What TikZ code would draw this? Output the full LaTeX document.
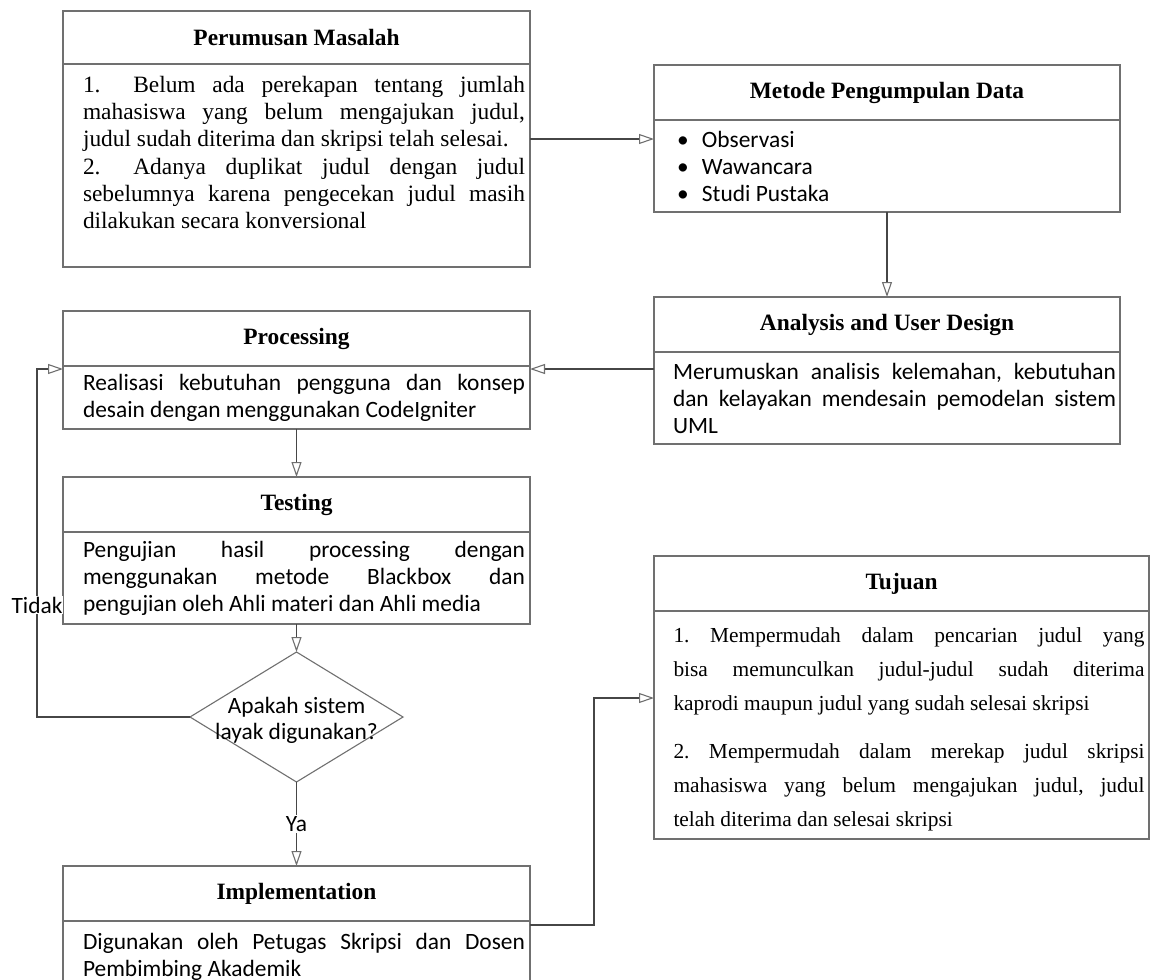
\documentclass[tikz,border=0pt]{standalone}
\usepackage{fontspec}
\setmainfont{Liberation Serif}
\newfontfamily\calibri{Carlito}
\usetikzlibrary{arrows.meta, positioning}
\usetikzlibrary{shapes.geometric}
\usepackage{xcolor}
\definecolor{boxgray}{RGB}{112,112,112}
\definecolor{linedark}{RGB}{70,70,70}
\frenchspacing
\newcommand{\isiteks}[2]{\hspace*{15pt}\parbox{#1}{\tolerance=10000\hbadness=10000 #2}}
\newcommand{\butir}[1]{\hspace*{4pt}\makebox[25pt][l]{•}#1}

\begin{document}
\begin{tikzpicture}[x=1pt, y=-1pt,
  headnode/.style={draw=boxgray, line width=1.1pt, outer sep=0pt, inner sep=0pt, minimum height=55pt, font=\fontsize{23.4}{27}\selectfont\bfseries},
  bodynode/.style={draw=boxgray, line width=1.1pt, outer sep=0pt, inner sep=0pt, font=\calibri\fontsize{23.4}{27}\selectfont},
  serifnode/.style={bodynode, font=\rmfamily\fontsize{23.4}{27.3}\selectfont},
  decnode/.style={draw=boxgray, line width=1.1pt, diamond, minimum width=213pt, minimum height=130pt, inner sep=0pt, outer sep=0pt, font=\calibri\fontsize{23.4}{26}\selectfont},
  flow/.style={draw=linedark, line width=1.1pt, -{Triangle[open, length=15pt, width=10pt, color=boxgray]}},
  lbl/.style={fill=white, inner sep=1pt, font=\calibri\fontsize{23.4}{27}\selectfont}]

    \useasboundingbox[fill=white] (0,0) rectangle (1160,980);

    % left column
    \node[headnode, minimum width=467pt, minimum height=53pt, anchor=north west] (masalah) at (63,11) {Perumusan Masalah};
    \node[serifnode, minimum width=467pt, minimum height=203pt, below=0pt of masalah] (masalahisi) {\hspace*{15pt}\parbox[c][179pt][t]{442pt}{\tolerance=10000\hbadness=10000
      1.\hspace{1.4em}Belum ada perekapan tentang jumlah\linebreak mahasiswa yang belum mengajukan judul,\linebreak judul sudah diterima dan skripsi telah selesai.\par
      2.\hspace{1.4em}Adanya duplikat judul dengan judul\linebreak sebelumnya karena pengecekan judul masih\linebreak dilakukan secara konversional}};

    \node[headnode, minimum width=467pt, anchor=north west] (proses) at (63,311) {Processing};
    \node[bodynode, minimum width=467pt, minimum height=63pt, below=0pt of proses] (prosesisi) {\isiteks{442pt}{Realisasi kebutuhan pengguna dan konsep\linebreak desain dengan menggunakan CodeIgniter}};

    \node[headnode, minimum width=467pt, below=48pt of prosesisi] (testing) {Testing};
    \node[bodynode, minimum width=467pt, minimum height=92pt, below=0pt of testing] (testingisi) {\isiteks{442pt}{Pengujian hasil processing dengan\linebreak menggunakan metode Blackbox dan\linebreak pengujian oleh Ahli materi dan Ahli media}};

    \node[decnode, below=28pt of testingisi] (cek) {\makebox[0pt]{\raisebox{0pt}[\dimexpr\height+9pt\relax][\depth]{\begin{tabular}{@{}c@{}}Apakah sistem\\layak digunakan?\end{tabular}}}};

    \node[headnode, minimum width=467pt, below=84pt of cek] (impl) {Implementation};
    \node[bodynode, minimum width=467pt, minimum height=58pt, below=0pt of impl] (implisi) {\isiteks{442pt}{\vspace*{12pt}Digunakan oleh Petugas Skripsi dan Dosen\linebreak Pembimbing Akademik}};

    % right column
    \node[headnode, minimum width=466pt, anchor=north west] (metode) at (654,65) {Metode Pengumpulan Data};
    \node[bodynode, minimum width=466pt, minimum height=92pt, below=0pt of metode] (metodeisi) {\isiteks{443pt}{\butir{Observasi}\\\butir{Wawancara}\\\butir{Studi Pustaka}}};

    \node[headnode, minimum width=466pt, below=85pt of metodeisi] (analisis) {Analysis and User Design};
    \node[bodynode, minimum width=466pt, minimum height=92pt, below=0pt of analisis] (analisisisi) {\isiteks{443pt}{Merumuskan analisis kelemahan, kebutuhan\linebreak dan kelayakan mendesain pemodelan sistem\linebreak UML}};

    \node[headnode, minimum width=495pt, anchor=north west] (tujuan) at (654,556) {Tujuan};
    \node[serifnode, minimum width=495pt, minimum height=228pt, below=0pt of tujuan, font=\rmfamily\fontsize{21.4}{34}\selectfont] (tujuanisi) {\hspace*{15pt}\parbox[c][194pt][t]{471pt}{\tolerance=10000\hbadness=10000\setlength{\parskip}{14pt}
      1. Mempermudah dalam pencarian judul yang\linebreak bisa memunculkan judul-judul sudah diterima\linebreak kaprodi maupun judul yang sudah selesai skripsi\par
      2. Mempermudah dalam merekap judul skripsi\linebreak mahasiswa yang belum mengajukan judul, judul\linebreak telah diterima dan selesai skripsi}};

    % connectors
    \coordinate (p1) at ([yshift=-75pt]masalahisi.north east);
    \draw[flow] (p1) -- (p1 -| metodeisi.west);

    \draw[flow] (metodeisi.south) -- (analisis.north);

    \coordinate (p2) at ([yshift=-3pt]prosesisi.north east);
    \draw[flow] (p2 -| analisisisi.west) -- (p2);

    \draw[flow] (prosesisi.south) -- (testing.north);
    \draw[flow] (testingisi.south) -- (cek.north);
    \draw[flow] (cek.south) -- node[lbl] (ya) {Ya} (impl.north);

    \coordinate (p3) at ([xshift=-26pt]cek.west -| prosesisi.west);
    \draw[flow] (cek.west) -- (p3) |- (p2 -| prosesisi.west);
    \node[lbl] (tidak) at (p3 |- 0,605) {Tidak};

    \coordinate (p4) at ([yshift=-4pt]implisi.north east);
    \coordinate (p5) at ([yshift=-87pt]tujuanisi.north west);
    \draw[flow] (p4) -- ++(64,0) |- (p5);

\end{tikzpicture}
\end{document}
